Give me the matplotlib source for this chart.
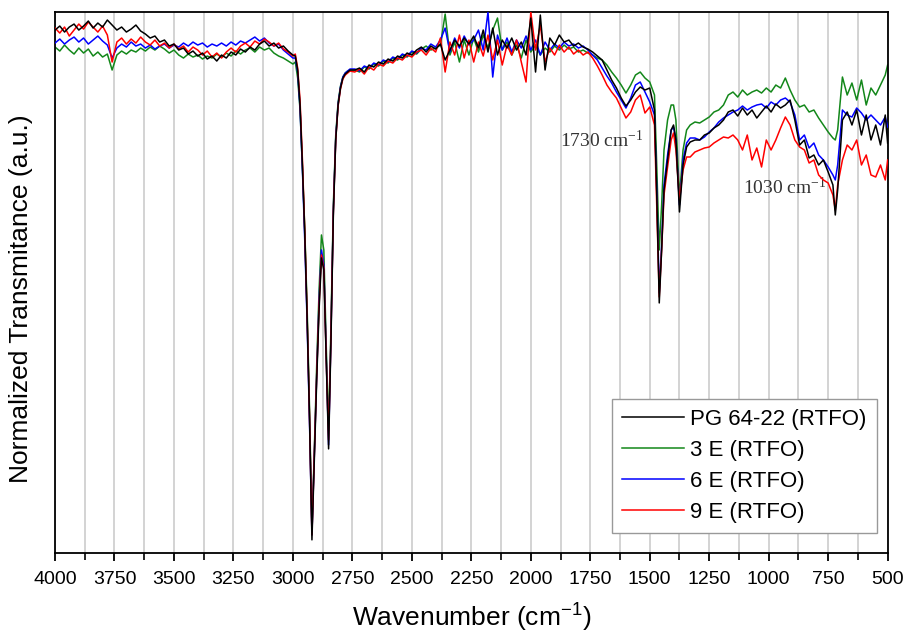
import numpy as np
import matplotlib
matplotlib.use("Agg")
import matplotlib.pyplot as plt
from matplotlib.ticker import MultipleLocator

plt.rcParams['font.family'] = ['Liberation Sans', 'DejaVu Sans']
plt.rcParams['mathtext.default'] = 'regular'

# wavenumber grid (cm-1), in four pieces
wn_a = list(range(4000, 2999, -20))
wn_b = list(range(2990, 2759, -10))
wn_c = list(range(2740, 1759, -20))
wn_d = [1740, 1720, 1700, 1680, 1660, 1640, 1620, 1600, 1580, 1560,
        1540, 1520, 1500, 1480, 1470, 1460, 1450, 1440, 1425, 1410,
        1400, 1390, 1375, 1360, 1345, 1330, 1310, 1290, 1270, 1250,
        1230, 1210, 1190, 1170, 1150, 1130, 1110, 1090, 1070, 1050,
        1030, 1010, 990, 970, 950, 930, 910, 890, 870, 850,
        830, 810, 790, 770, 750, 730, 720, 710, 690, 670,
        650, 630, 610, 590, 570, 550, 530, 510, 500]

# normalized transmittance (a.u.)
pg_a = [523, 527, 521, 526, 529, 523, 527, 532, 525, 530, 526, 533, 528, 523, 526, 521, 524,
        528, 522, 519, 515, 517, 511, 513, 507, 509, 503, 505, 499, 502, 497, 500, 494, 497,
        492, 498, 495, 501, 498, 504, 501, 506, 503, 509, 512, 507, 510, 505, 507, 502, 498]
pg_b = [497, 483, 448, 388, 318, 233, 133, 13, 93, 173, 243, 295, 283, 193, 104, 213, 338,
        413, 448, 465, 475, 479, 481, 483]
pg_c = [483, 485, 481, 488, 486, 491, 489, 494, 492, 497, 495, 500, 498, 503, 506, 501, 507,
        504, 509, 493, 503, 513, 507, 515, 509, 517, 505, 523, 501, 525, 498, 513, 505, 515,
        503, 511, 498, 535, 481, 538, 483, 515, 508, 518, 511, 513, 507, 510, 506, 504]
pg_d = [501, 497, 493, 483, 473, 465, 455, 447, 453, 461, 466, 463, 465, 443, 353, 250, 303,
        363, 393, 423, 428, 413, 341, 388, 406, 411, 413, 413, 418, 420, 425, 428, 433, 441,
        443, 437, 445, 438, 443, 435, 441, 447, 441, 449, 445, 448, 453, 433, 408, 413, 395,
        398, 388, 393, 381, 368, 338, 363, 433, 441, 428, 443, 418, 438, 413, 428, 408, 438, 410]

e3_a = [506, 502, 508, 503, 499, 505, 500, 504, 497, 501, 496, 499, 483, 498, 502, 499, 503,
        501, 505, 502, 506, 503, 507, 504, 500, 503, 498, 495, 499, 496, 498, 494, 497, 495,
        499, 496, 500, 497, 502, 499, 503, 505, 501, 506, 503, 505, 500, 497, 495, 492, 489]
e3_b = [491, 475, 443, 385, 323, 243, 143, 23, 103, 188, 263, 318, 303, 208, 123, 228, 348,
        418, 451, 467, 476, 480, 482, 483]
e3_c = [483, 481, 486, 484, 489, 487, 492, 490, 495, 493, 498, 496, 501, 499, 504, 507, 503,
        505, 508, 539, 498, 511, 491, 513, 498, 515, 501, 518, 505, 523, 535, 503, 511, 498,
        508, 495, 513, 501, 508, 498, 505, 501, 507, 503, 508, 504, 506, 501, 503, 500]
e3_d = [498, 495, 493, 488, 481, 475, 468, 460, 468, 478, 481, 475, 471, 458, 383, 303, 348,
        403, 433, 448, 448, 433, 356, 403, 423, 428, 431, 430, 433, 436, 441, 443, 448, 458,
        461, 456, 463, 458, 461, 463, 460, 465, 461, 468, 465, 475, 463, 453, 446, 448, 441,
        443, 435, 428, 421, 415, 413, 423, 476, 458, 470, 453, 473, 448, 465, 458, 468, 478, 488]

e6_a = [510, 514, 509, 513, 516, 511, 515, 509, 513, 517, 512, 508, 495, 505, 509, 506, 511,
        507, 509, 505, 508, 504, 507, 509, 505, 508, 506, 510, 507, 511, 508, 510, 506, 509,
        507, 510, 507, 511, 508, 512, 510, 513, 516, 512, 515, 510, 507, 509, 503, 499, 495]
e6_b = [495, 481, 445, 383, 311, 228, 128, 18, 98, 178, 253, 303, 288, 198, 108, 218, 343,
        415, 449, 466, 476, 480, 482, 484]
e6_c = [484, 482, 487, 485, 490, 488, 493, 491, 496, 494, 499, 497, 502, 500, 505, 503, 509,
        506, 513, 525, 501, 515, 505, 517, 508, 513, 523, 503, 541, 476, 518, 503, 515, 501,
        513, 505, 517, 503, 513, 498, 511, 503, 509, 505, 511, 507, 509, 505, 507, 503]
e6_d = [498, 493, 485, 477, 470, 461, 453, 445, 455, 468, 471, 461, 451, 438, 358, 260, 308,
        368, 398, 423, 426, 413, 348, 393, 410, 415, 415, 413, 416, 421, 425, 431, 435, 438,
        441, 443, 447, 443, 446, 448, 449, 445, 451, 448, 453, 455, 451, 438, 413, 418, 405,
        410, 398, 393, 386, 378, 373, 388, 443, 438, 436, 445, 440, 433, 438, 433, 428, 436, 426]

e9_a = [525, 520, 526, 517, 523, 529, 524, 531, 526, 521, 527, 518, 491, 511, 515, 509, 514,
        510, 516, 511, 508, 513, 507, 510, 505, 509, 504, 507, 501, 506, 503, 498, 502, 496,
        500, 495, 501, 505, 501, 507, 510, 506, 512, 509, 514, 511, 507, 510, 504, 501, 497]
e9_b = [499, 485, 453, 393, 321, 235, 135, 18, 98, 178, 248, 298, 285, 195, 113, 218, 341,
        413, 447, 464, 474, 478, 480, 482]
e9_c = [481, 484, 479, 486, 483, 489, 487, 492, 490, 495, 493, 498, 496, 501, 503, 498, 505,
        501, 515, 481, 511, 498, 518, 495, 513, 491, 511, 497, 518, 493, 513, 488, 508, 498,
        513, 491, 471, 541, 503, 528, 491, 505, 498, 508, 501, 506, 499, 503, 498, 501]
e9_d = [495, 487, 478, 468, 461, 455, 445, 435, 441, 453, 458, 440, 446, 428, 343, 256, 303,
        358, 386, 413, 420, 403, 353, 383, 396, 396, 401, 403, 405, 406, 410, 413, 416, 415,
        418, 413, 403, 418, 393, 405, 386, 413, 403, 413, 425, 436, 428, 413, 406, 403, 390,
        393, 378, 373, 370, 358, 343, 368, 393, 408, 403, 413, 388, 398, 378, 376, 388, 373, 393]

wn = np.array(wn_a + wn_b + wn_c + wn_d)
series = [
    ("PG 64-22 (RTFO)", "black", pg_a + pg_b + pg_c + pg_d, 5),
    ("3 E (RTFO)", "#13871a", e3_a + e3_b + e3_c + e3_d, 2),
    ("6 E (RTFO)", "#0000ff", e6_a + e6_b + e6_c + e6_d, 3),
    ("9 E (RTFO)", "#ff0000", e9_a + e9_b + e9_c + e9_d, 4),
]

fig = plt.figure(figsize=(9.05, 6.34), dpi=100)
ax = fig.add_axes([0.0608, 0.128, 0.92, 0.853])

handles = []
for label, color, vals, z in series:
    h, = ax.plot(wn, vals, color=color, lw=1.1, label=label, zorder=z)
    handles.append(h)

ax.set_xlim(4000, 500)
ax.set_ylim(0, 541)
ax.xaxis.set_major_locator(MultipleLocator(250))
ax.xaxis.set_minor_locator(MultipleLocator(125))
ax.grid(True, axis='x', which='both', color='#cccccc', lw=1.2)
ax.set_axisbelow(True)
ax.set_yticks([])
ax.tick_params(axis='x', which='major', direction='out', length=6, width=1.3,
               labelsize=14, pad=7)
ax.tick_params(axis='x', which='minor', direction='out', length=5, width=1.2)
for s in ax.spines.values():
    s.set_linewidth(1.3)

ax.set_xlabel("Wavenumber (cm$^{-1}$)", fontsize=19, labelpad=10)
ax.set_ylabel("Normalized Transmitance (a.u.)", fontsize=19)
ax.yaxis.set_label_coords(-0.027, 0.47)

ax.text(1700, 412, "1730 cm$^{-1}$", family='Liberation Serif', fontsize=14,
        ha='center', va='center', color='#333333')
ax.text(933, 365, "1030 cm$^{-1}$", family='Liberation Serif', fontsize=14,
        ha='center', va='center', color='#333333')

leg = ax.legend(handles=handles, loc='lower right', bbox_to_anchor=(0.987, 0.037),
                borderaxespad=0, fontsize=16, handlelength=2.8, handletextpad=0.3,
                labelspacing=0.45, borderpad=0.45, fancybox=False, framealpha=1)
leg.get_frame().set_edgecolor('#999999')
leg.get_frame().set_linewidth(1.0)

fig.savefig("out.png", dpi=100)
